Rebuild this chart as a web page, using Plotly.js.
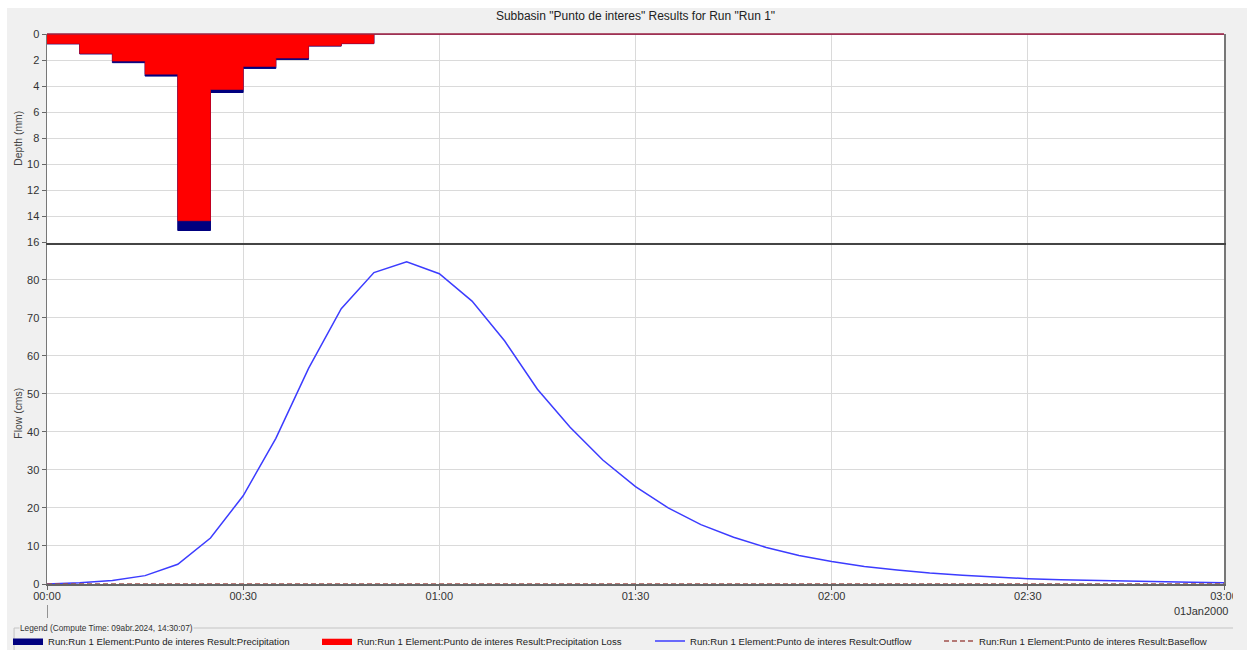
<!DOCTYPE html>
<html>
<head>
<meta charset="utf-8">
<script src="https://cdn.plot.ly/plotly-3.0.1.min.js"></script>
<style>
  html, body { margin: 0; padding: 0; background: #ffffff; }
  #frame { position: absolute; left: 7px; top: 8px; width: 1240px; height: 642px; background: #f0f0f0; overflow: hidden; }
  #chart { position: absolute; left: 0; top: 0; width: 1226px; height: 642px; }
</style>
</head>
<body>
<div id="frame"><div id="chart"></div></div>
<script>
// Time steps (minutes after 01Jan2000 00:00), 5-minute interval
const minutes = [0, 5, 10, 15, 20, 25, 30, 35, 40, 45, 50, 55, 60, 65, 70, 75, 80, 85, 90,
                 95, 100, 105, 110, 115, 120, 125, 130, 135, 140, 145, 150, 155, 160, 165, 170, 175, 180];

// Incremental depths (mm), value at end of each interval
const precipitationMm = [0, 0.76, 1.53, 2.2, 3.23, 15.08, 4.49, 2.64, 1.95, 0.93, 0.74,
                         0, 0, 0, 0, 0, 0, 0, 0, 0, 0, 0, 0, 0, 0, 0, 0, 0, 0, 0, 0, 0, 0, 0, 0, 0, 0];
const precipitationLossMm = [0, 0.74, 1.5, 2.08, 3.08, 14.33, 4.26, 2.49, 1.85, 0.9, 0.72,
                             0, 0, 0, 0, 0, 0, 0, 0, 0, 0, 0, 0, 0, 0, 0, 0, 0, 0, 0, 0, 0, 0, 0, 0, 0, 0];

// Flows (cms)
const outflowCms = [0, 0.3, 0.9, 2.2, 5.2, 12.1, 23.2, 38.3, 56.7, 72.4, 81.9, 84.7, 81.6, 74.4, 63.9,
                    51.2, 41.2, 32.6, 25.6, 20.0, 15.6, 12.3, 9.6, 7.5, 5.9, 4.6, 3.7, 2.9, 2.3, 1.8,
                    1.4, 1.1, 0.9, 0.7, 0.55, 0.45, 0.35];
const baseflowCms = [0, 0, 0, 0, 0, 0, 0, 0, 0, 0, 0, 0, 0, 0, 0, 0, 0, 0, 0,
                     0, 0, 0, 0, 0, 0, 0, 0, 0, 0, 0, 0, 0, 0, 0, 0, 0, 0];

const depthTicks = [0, 2, 4, 6, 8, 10, 12, 14, 16];
const flowTicks = [0, 10, 20, 30, 40, 50, 60, 70, 80];

const chartTitle = 'Subbasin "Punto de interes" Results for Run "Run 1"';
const legendCaption = 'Legend (Compute Time: 09abr.2024, 14:30:07)';
const dateCaption = '01Jan2000';
const prefix = 'Run:Run 1 Element:Punto de interes Result:';

function pad(n) { return (n < 10 ? '0' : '') + n; }
function stamp(m) { return '2000-01-01 ' + pad(Math.floor(m / 60)) + ':' + pad(m % 60); }
const times = minutes.map(stamp);

// Page pixel -> paper coordinate helpers (plot area spans x 47..1226, y 34..584 on the page)
const W = 1226, H = 642;
const PX0 = 47, PX1 = 1226, PY0 = 34, PY1 = 584;
function px(x) { return (x - PX0) / (PX1 - PX0); }
function py(y) { return (PY1 - y) / (PY1 - PY0); }
const split = py(242.5);

const font = 'Liberation Sans, Arial, sans-serif';
const gridColor = '#dadada';

const traces = [
  {
    name: prefix + 'Precipitation', x: times, y: precipitationMm, xaxis: 'x2', yaxis: 'y2',
    type: 'scatter', mode: 'lines', line: { shape: 'vh', color: '#00007f', width: 1 },
    fill: 'tozeroy', fillcolor: '#00007f', legend: 'legend'
  },
  {
    name: prefix + 'Precipitation Loss', x: times, y: precipitationLossMm, xaxis: 'x2', yaxis: 'y2',
    type: 'scatter', mode: 'lines', line: { shape: 'vh', color: 'rgba(255,0,0,0.55)', width: 1 },
    fill: 'tozeroy', fillcolor: '#ff0000', legend: 'legend2'
  },
  {
    name: prefix + 'Outflow', x: times, y: outflowCms, xaxis: 'x', yaxis: 'y',
    type: 'scatter', mode: 'lines', line: { color: '#3c3cff', width: 1.5 }, legend: 'legend3'
  },
  {
    name: prefix + 'Baseflow', x: times, y: baseflowCms, xaxis: 'x', yaxis: 'y',
    type: 'scatter', mode: 'lines', line: { color: '#a0504c', width: 1.3, dash: '5px,3px' }, legend: 'legend4'
  }
];

// one legend box per entry, laid out in a single row (page x of each entry's left edge)
function legendAt(pageX) {
  return {
    orientation: 'h', xref: 'container', yref: 'container',
    x: (pageX - 7 - 6) / W, y: 1 - 633 / H, xanchor: 'left', yanchor: 'middle',
    font: { family: font, size: 9.6, color: '#222' },
    bgcolor: 'rgba(0,0,0,0)', borderwidth: 0, itemwidth: 30
  };
}

const layout = {
  width: W, height: H,
  margin: { l: 40, r: 7, t: 26, b: 66 },
  paper_bgcolor: '#f0f0f0', plot_bgcolor: '#ffffff',
  font: { family: font, color: '#333' },
  title: {
    text: chartTitle, xref: 'paper', x: 0.5, xanchor: 'center',
    yref: 'container', y: 1 - 8 / H, yanchor: 'middle',
    font: { family: font, size: 12, color: '#222' }
  },
  xaxis: {
    type: 'date', anchor: 'y', range: [stamp(0), stamp(180)],
    tick0: stamp(0), dtick: 30 * 60 * 1000, tickformat: '%H:%M',
    ticks: 'outside', ticklen: 4, tickcolor: '#666',
    ticklabeloverflow: 'allow', ticklabelstandoff: -3,
    showgrid: true, gridcolor: gridColor, zeroline: false,
    showline: true, linecolor: '#666', linewidth: 1.5,
    tickfont: { size: 11, color: '#333' }
  },
  xaxis2: {
    type: 'date', anchor: 'y2', matches: 'x', range: [stamp(0), stamp(180)],
    tick0: stamp(0), dtick: 30 * 60 * 1000,
    ticks: '', showticklabels: false,
    showgrid: true, gridcolor: gridColor, zeroline: false,
    showline: true, linecolor: '#444', linewidth: 2
  },
  yaxis: {
    domain: [0, split], range: [0, 89.8], tickvals: flowTicks,
    ticks: 'outside', ticklen: 4, tickcolor: '#666',
    showgrid: true, gridcolor: gridColor, zeroline: false,
    showline: true, mirror: true, linecolor: '#777', linewidth: 1.5,
    tickfont: { size: 11, color: '#333' },
    automargin: true,
    title: { text: 'Flow (cms)', standoff: 2, font: { size: 10.4, color: '#444' } }
  },
  yaxis2: {
    domain: [split, 1], range: [16, 0], tickvals: depthTicks,
    ticks: 'outside', ticklen: 4, tickcolor: '#666',
    showgrid: true, gridcolor: gridColor, zeroline: false,
    showline: true, mirror: true, linecolor: '#777', linewidth: 1.5,
    tickfont: { size: 11, color: '#333' },
    automargin: true,
    title: { text: 'Depth (mm)', standoff: 2, font: { size: 10.4, color: '#444' } }
  },
  showlegend: true,
  legend: legendAt(14),
  legend2: legendAt(323),
  legend3: legendAt(656),
  legend4: legendAt(945),
  shapes: [
    // rain plot top edge
    { type: 'line', xref: 'paper', yref: 'paper', x0: 0, x1: 1, y0: 1, y1: 1,
      line: { color: '#9b2343', width: 1.5 } },
    // day marker below the time axis
    { type: 'line', xref: 'x', yref: 'paper', x0: stamp(0), x1: stamp(0), y0: py(605), y1: py(618),
      line: { color: '#555', width: 1.2 } },
    // legend group box
    { type: 'rect', xref: 'paper', yref: 'paper', x0: px(14), x1: px(1240), y0: py(652), y1: py(628),
      line: { color: '#c4c4c4', width: 1 }, fillcolor: 'rgba(0,0,0,0)' }
  ],
  annotations: [
    { text: dateCaption, xref: 'paper', yref: 'paper', x: px(1232), y: py(611),
      xanchor: 'right', yanchor: 'middle', showarrow: false, font: { size: 11, color: '#333' } },
    { text: legendCaption, xref: 'paper', yref: 'paper', x: px(19), y: py(628),
      xanchor: 'left', yanchor: 'middle', showarrow: false, bgcolor: '#f0f0f0', borderpad: 0,
      font: { size: 8.3, color: '#333' } }
  ]
};

Plotly.newPlot('chart', traces, layout, { staticPlot: true, displayModeBar: false });
</script>
</body>
</html>
